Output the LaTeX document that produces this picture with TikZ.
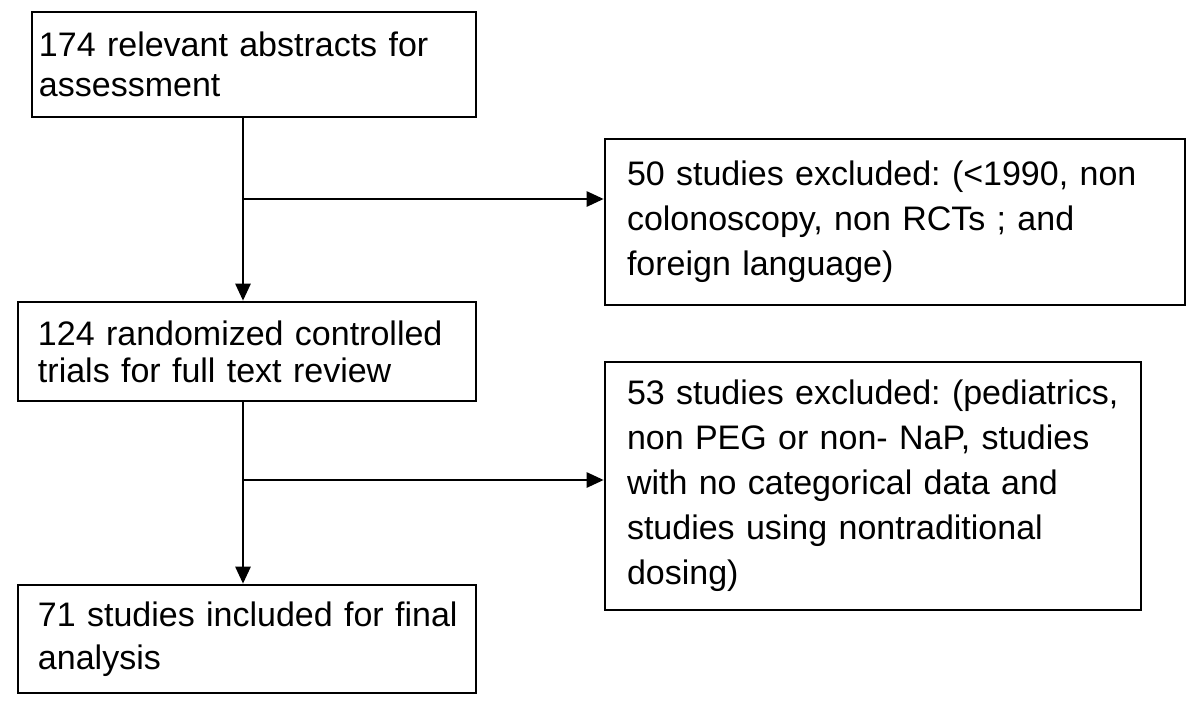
\documentclass[tikz,border=0pt]{standalone}
\usepackage{fontspec}
\setmainfont{Liberation Sans}
\usetikzlibrary{arrows.meta}
\begin{document}
\begin{tikzpicture}[x=0.5pt,y=-0.5pt,
  box/.style={draw,line width=1.3pt,align=left,inner ysep=0pt},
  arr/.style={line width=1.3pt,-{Triangle[length=8.5pt,width=7.5pt]}}]
\useasboundingbox (0,0) rectangle (1200,712);
\node[box,minimum width=222pt,minimum height=52.5pt,inner xsep=3.5pt,text width=215pt,font=\fontsize{17}{20}\selectfont\frenchspacing] (b1) at (254,64.5)
  {\mbox{174 relevant abstracts for}\\\mbox{assessment}};
\node[box,minimum width=290pt,minimum height=83pt,inner xsep=11pt,text width=268pt,font=\fontsize{17}{22.5}\selectfont\frenchspacing] (b2) at (895,222)
  {\mbox{50 studies excluded: (<1990, non}\\\mbox{colonoscopy, non RCTs ; and}\\\mbox{foreign language)}};
\node[box,minimum width=229pt,minimum height=49.5pt,inner xsep=10pt,text width=209pt,font=\fontsize{17}{18.5}\selectfont\frenchspacing] (b3) at (247,351.5)
  {\mbox{124 randomized controlled}\\\mbox{trials for full text review}};
\node[box,minimum width=268pt,minimum height=124pt,inner xsep=11pt,text width=246pt,font=\fontsize{17}{22.5}\selectfont\frenchspacing] (b4) at (873,486)
  {\mbox{53 studies excluded: (pediatrics,}\\\mbox{non PEG or non- NaP, studies}\\\mbox{with no categorical data and}\\\mbox{studies using nontraditional}\\\mbox{dosing)}};
\node[box,minimum width=229pt,minimum height=54pt,inner xsep=10pt,text width=209pt,font=\fontsize{17}{21.5}\selectfont\frenchspacing] (b5) at (247,639)
  {\mbox{71 studies included for final}\\\mbox{analysis}};
\coordinate (j1) at (243,199);
\coordinate (j2) at (243,480);
\draw[arr] (j1 |- b1.south) -- (j1 |- b3.north);
\draw[arr] (j1) -- (j1 -| b2.west);
\draw[arr] (j2 |- b3.south) -- (j2 |- b5.north);
\draw[arr] (j2) -- (j2 -| b4.west);
\end{tikzpicture}
\end{document}
